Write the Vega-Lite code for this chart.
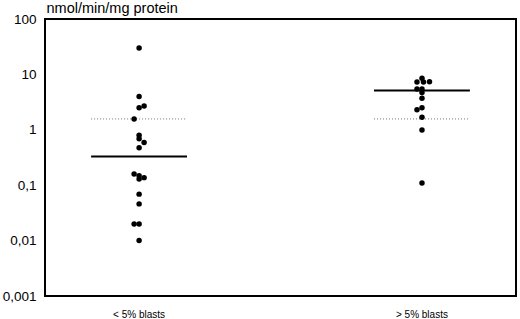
{
  "$schema": "https://vega.github.io/schema/vega-lite/v6.json",
  "width": 471,
  "height": 277,
  "autosize": "none",
  "padding": {"left": 45, "top": 19, "right": 4, "bottom": 23},
  "config": {
    "font": "Liberation Sans",
    "view": {"stroke": "black", "strokeWidth": 2}
  },
  "datasets": {
    "points": [
      {"group": "< 5% blasts", "value": 30, "col": 0},
      {"group": "< 5% blasts", "value": 4.0, "col": 0},
      {"group": "< 5% blasts", "value": 2.5, "col": 0},
      {"group": "< 5% blasts", "value": 2.7, "col": 1},
      {"group": "< 5% blasts", "value": 1.57, "col": -1},
      {"group": "< 5% blasts", "value": 0.80, "col": 0},
      {"group": "< 5% blasts", "value": 0.69, "col": 0},
      {"group": "< 5% blasts", "value": 0.59, "col": 1},
      {"group": "< 5% blasts", "value": 0.475, "col": 0},
      {"group": "< 5% blasts", "value": 0.159, "col": -1},
      {"group": "< 5% blasts", "value": 0.148, "col": 0},
      {"group": "< 5% blasts", "value": 0.129, "col": 0},
      {"group": "< 5% blasts", "value": 0.137, "col": 1},
      {"group": "< 5% blasts", "value": 0.069, "col": 0},
      {"group": "< 5% blasts", "value": 0.046, "col": 0},
      {"group": "< 5% blasts", "value": 0.020, "col": -1},
      {"group": "< 5% blasts", "value": 0.020, "col": 0},
      {"group": "< 5% blasts", "value": 0.010, "col": 0},
      {"group": "> 5% blasts", "value": 8.5, "col": 0},
      {"group": "> 5% blasts", "value": 7.3, "col": -1},
      {"group": "> 5% blasts", "value": 7.3, "col": 0.3},
      {"group": "> 5% blasts", "value": 7.4, "col": 1.5},
      {"group": "> 5% blasts", "value": 5.45, "col": -1},
      {"group": "> 5% blasts", "value": 5.45, "col": 0},
      {"group": "> 5% blasts", "value": 4.7, "col": 0},
      {"group": "> 5% blasts", "value": 3.7, "col": 0},
      {"group": "> 5% blasts", "value": 2.5, "col": 0},
      {"group": "> 5% blasts", "value": 2.3, "col": -1},
      {"group": "> 5% blasts", "value": 1.69, "col": 0},
      {"group": "> 5% blasts", "value": 0.99, "col": 0},
      {"group": "> 5% blasts", "value": 0.11, "col": 0}
    ],
    "lines": [
      {"group": "< 5% blasts", "median": 0.33, "cutoff": 1.57},
      {"group": "> 5% blasts", "median": 5.1, "cutoff": 1.57}
    ]
  },
  "encoding": {
    "x": {
      "field": "group",
      "type": "nominal",
      "scale": {"type": "band", "domain": ["< 5% blasts", "> 5% blasts"], "paddingInner": 0.661, "paddingOuter": 0.163},
      "axis": {"title": null, "labelAngle": 0, "labelFontSize": 10, "labelPadding": 13, "ticks": false, "domain": false, "labelColor": "black"}
    }
  },
  "layer": [
    {
      "data": {"name": "lines"},
      "mark": {"type": "rule", "color": "#777777", "strokeWidth": 1, "strokeDash": [1, 2]},
      "encoding": {
        "x": {"field": "group", "type": "nominal", "bandPosition": 0},
        "x2": {"field": "group", "bandPosition": 1},
        "y": {"field": "cutoff", "type": "quantitative", "scale": {"type": "log", "domain": [0.001, 100]}}
      }
    },
    {
      "data": {"name": "lines"},
      "mark": {"type": "rule", "color": "black", "strokeWidth": 2},
      "encoding": {
        "x": {"field": "group", "type": "nominal", "bandPosition": 0},
        "x2": {"field": "group", "bandPosition": 1},
        "y": {"field": "median", "type": "quantitative"}
      }
    },
    {
      "data": {"name": "points"},
      "mark": {"type": "circle", "color": "black", "opacity": 1, "size": 30},
      "encoding": {
        "xOffset": {"field": "col", "type": "quantitative", "scale": {"domain": [-1, 1], "range": [43, 53]}},
        "y": {
          "field": "value",
          "type": "quantitative",
          "scale": {"type": "log", "domain": [0.001, 100]},
          "axis": {
            "values": [0.001, 0.01, 0.1, 1, 10, 100],
            "labelExpr": "replace(toString(datum.value), '.', ',')",
            "grid": false, "ticks": false, "domain": false,
            "labelFontSize": 13.5, "labelPadding": 9, "labelColor": "black",
            "title": "nmol/min/mg protein",
            "titleAngle": 0, "titleAlign": "left", "titleBaseline": "alphabetic",
            "titleX": 1, "titleY": -7, "titleFontSize": 14.5, "titleFontWeight": "normal", "titleColor": "black"
          }
        }
      }
    }
  ]
}
